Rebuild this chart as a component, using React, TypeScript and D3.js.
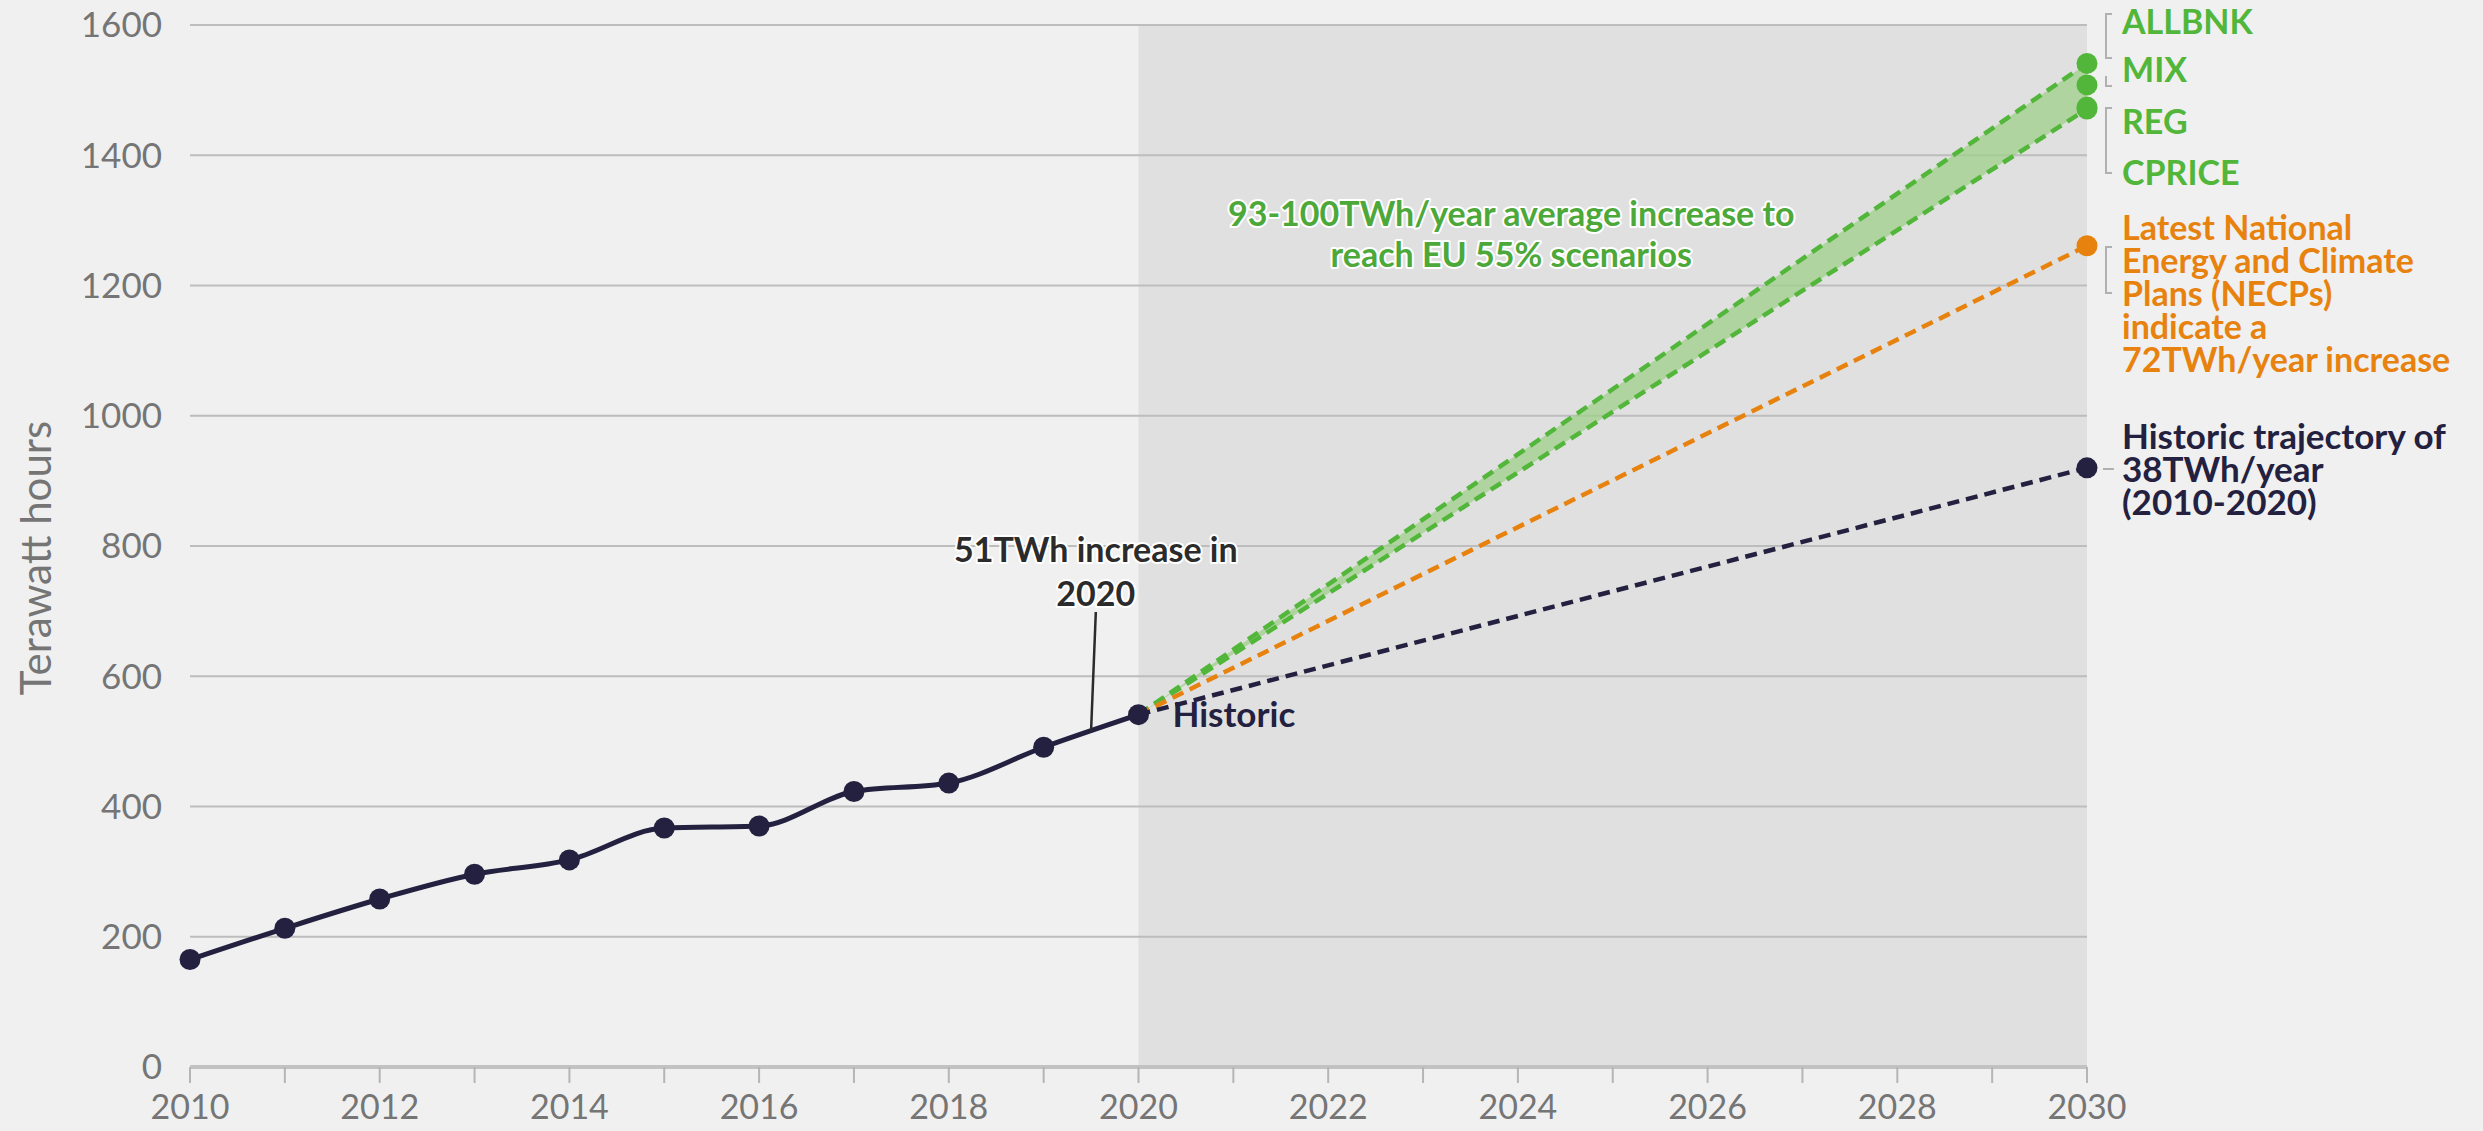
import React from "react";
import * as d3 from "d3";

// historic electricity demand (TWh)
const years = [2010, 2011, 2012, 2013, 2014, 2015, 2016, 2017, 2018, 2019, 2020];
const historic = [165, 213, 258, 296, 318, 367, 370, 423, 436, 491, 541];

// 2030 end points of the projections
const scenarioNames = ["ALLBNK", "MIX", "REG", "CPRICE"];
const scenarioValues = [1541, 1508, 1474, 1471];
const necpValue = 1261;
const trendValue = 920;

const yTicks = [0, 200, 400, 600, 800, 1000, 1200, 1400, 1600];
const xLabelYears = [2010, 2012, 2014, 2016, 2018, 2020, 2022, 2024, 2026, 2028, 2030];

const necpLines = ["Latest National", "Energy and Climate", "Plans (NECPs)", "indicate a", "72TWh/year increase"];
const trendLines = ["Historic trajectory of", "38TWh/year", "(2010-2020)"];
const greenNote = ["93-100TWh/year average increase to", "reach EU 55% scenarios"];
const histNote = ["51TWh increase in", "2020"];

const W = 2483;
const H = 1131;
const FONT = "Lato, 'Open Sans', sans-serif";
const NAVY = "#23213f";
const GREEN = "#52b63a";
const GREEN_TXT = "#4da83a";
const ORANGE = "#e8820e";
const GRID = "#bdbdbd";
const TICK_TXT = "#757575";

export default function App() {
  const x = d3.scaleLinear().domain([2010, 2030]).range([190, 2087]);
  const y = d3.scaleLinear().domain([0, 1600]).range([1067, 25]);

  const line = d3
    .line<number>()
    .x((_, i) => x(years[i]))
    .y((d) => y(d))
    .curve(d3.curveMonotoneX);

  const last = historic[historic.length - 1];
  const topVal = d3.max(scenarioValues)!;
  const botVal = d3.min(scenarioValues)!;

  const band = d3
    .area<number>()
    .x((d) => x(d))
    .y0((d) => y(last + ((botVal - last) * (d - 2020)) / 10))
    .y1((d) => y(last + ((topVal - last) * (d - 2020)) / 10))([2020, 2030]);

  const allYears = d3.range(2010, 2031);
  const dotVals = scenarioValues.filter((v, i, a) => a.indexOf(v) === i);

  const halo = {
    stroke: "#ffffff",
    strokeWidth: 4,
    strokeLinejoin: "round" as const,
    paintOrder: "stroke" as const,
  };

  const labelX = 2122;
  const bx = 2106;

  return (
    <svg
      width={W}
      height={H}
      style={{ position: "absolute", left: 0, top: 0, display: "block", background: "#f0f0f0" }}
      fontFamily={FONT}
    >
      <rect width={W} height={H} fill="#f0f0f0" />
      {/* projection period shading */}
      <rect x={x(2020)} y={y(1600)} width={x(2030) - x(2020)} height={y(0) - y(1600)} fill="#e0e0e0" />

      {/* grid */}
      {yTicks.slice(1).map((t) => (
        <line key={t} x1={x(2010)} x2={x(2030)} y1={y(t)} y2={y(t)} stroke={GRID} strokeWidth={2} />
      ))}
      <line x1={x(2010)} x2={x(2030)} y1={y(0)} y2={y(0)} stroke="#c2c2c2" strokeWidth={4} />
      {allYears.map((yr) => (
        <line key={yr} x1={x(yr)} x2={x(yr)} y1={y(0)} y2={y(0) + 16} stroke="#b5b5b5" strokeWidth={2} />
      ))}

      {/* y tick labels */}
      {yTicks.map((t) => (
        <text key={t} x={162} y={y(t)} dy="0.35em" textAnchor="end" fontSize={35} fill={TICK_TXT}>
          {t}
        </text>
      ))}
      {/* x tick labels */}
      {xLabelYears.map((yr) => (
        <text key={yr} x={x(yr)} y={1119} textAnchor="middle" fontSize={34} fill={TICK_TXT}>
          {yr}
        </text>
      ))}
      <text
        transform={`translate(36,${(y(0) + y(1600)) / 2 + 12}) rotate(-90)`}
        textAnchor="middle"
        dy="0.35em"
        fontSize={42}
        fill={TICK_TXT}
      >
        Terawatt hours
      </text>

      {/* scenario band */}
      <path d={band ?? ""} fill="#9fd08a" fillOpacity={0.75} />
      <line x1={x(2020)} y1={y(last)} x2={x(2030)} y2={y(topVal)} stroke={GREEN} strokeWidth={4.5} strokeDasharray="12 7" />
      <line x1={x(2020)} y1={y(last)} x2={x(2030)} y2={y(botVal)} stroke={GREEN} strokeWidth={4.5} strokeDasharray="12 7" />
      <line x1={x(2020)} y1={y(last)} x2={x(2030)} y2={y(necpValue)} stroke={ORANGE} strokeWidth={4.5} strokeDasharray="12 7" />
      <line x1={x(2020)} y1={y(last)} x2={x(2030)} y2={y(trendValue)} stroke={NAVY} strokeWidth={4.5} strokeDasharray="12 7" />

      {/* historic line */}
      <path d={line(historic) ?? ""} fill="none" stroke={NAVY} strokeWidth={5} />
      {historic.map((v, i) => (
        <circle key={years[i]} cx={x(years[i])} cy={y(v)} r={10.5} fill={NAVY} />
      ))}

      {/* end dots */}
      {dotVals.map((v) => (
        <circle key={v} cx={x(2030)} cy={y(v)} r={10.5} fill={GREEN} />
      ))}
      <circle cx={x(2030)} cy={y(necpValue)} r={10.5} fill={ORANGE} />
      <circle cx={x(2030)} cy={y(trendValue)} r={10.5} fill={NAVY} />

      {/* annotation: 51TWh */}
      <line x1={x(2019.55)} y1={612} x2={x(2019.5)} y2={y((historic[9] + historic[10]) / 2)} stroke="#2b2b2b" strokeWidth={2.5} />
      {histNote.map((s, i) => (
        <text key={s} x={x(2019.55)} y={562 + i * 44} textAnchor="middle" fontSize={34} fontWeight={700} fill="#2b2b2b" {...halo}>
          {s}
        </text>
      ))}
      <text x={x(2020) + 34} y={y(last)} dy="0.35em" fontSize={35} fontWeight={700} fill={NAVY}>
        Historic
      </text>

      {/* annotation: green */}
      {greenNote.map((s, i) => (
        <text key={s} x={x(2023.93)} y={226 + i * 41} textAnchor="middle" fontSize={34} fontWeight={700} fill={GREEN_TXT} {...halo}>
          {s}
        </text>
      ))}

      {/* right labels */}
      <g fill="none" stroke="#b0b0b0" strokeWidth={2}>
        <path d={`M${bx + 6},14 H${bx} V58 H${bx + 6}`} />
        <path d={`M${bx},76 V86 H${bx + 6}`} />
        <path d={`M${bx + 6},108 H${bx} V173 H${bx + 6}`} />
        <path d={`M${bx + 6},247 H${bx} V293 H${bx + 6}`} />
        <path d={`M${x(2030) + 16},469 H${bx + 8}`} />
      </g>
      {scenarioNames.map((n, i) => (
        <text key={n} x={labelX} y={[22, 70, 122, 173][i]} dy="0.35em" fontSize={34} fontWeight={700} fill={GREEN}>
          {n}
        </text>
      ))}
      {necpLines.map((s, i) => (
        <text key={s} x={labelX} y={240 + i * 33} fontSize={34} fontWeight={700} fill={ORANGE}>
          {s}
        </text>
      ))}
      {trendLines.map((s, i) => (
        <text key={s} x={labelX} y={449 + i * 33} fontSize={35} fontWeight={700} fill={NAVY}>
          {s}
        </text>
      ))}
    </svg>
  );
}
